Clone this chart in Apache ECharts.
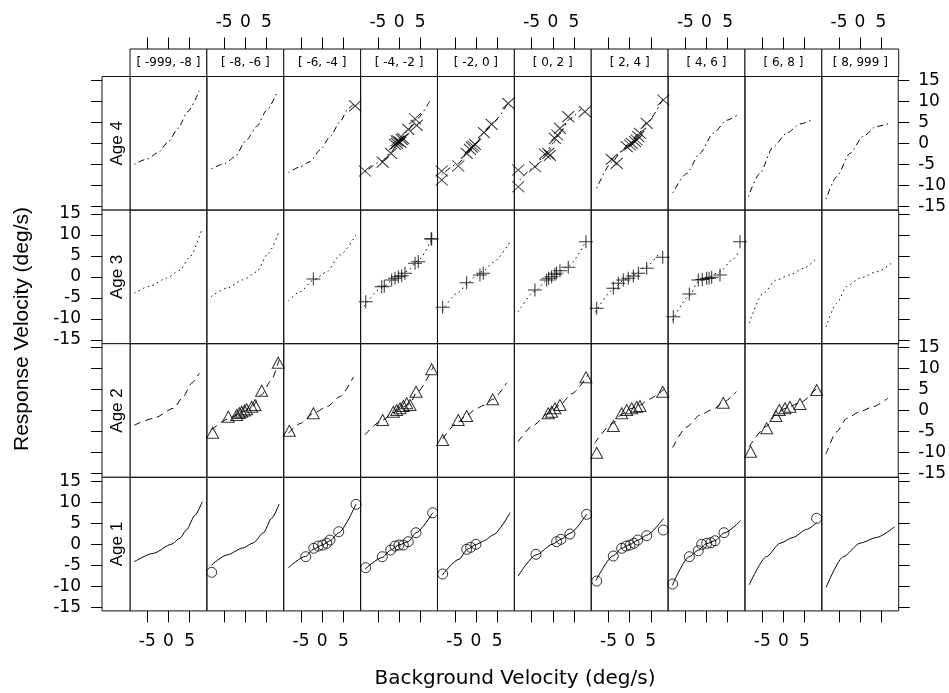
<!DOCTYPE html>
<html><head><meta charset="utf-8">
<script src="https://cdn.jsdelivr.net/npm/echarts@6/dist/echarts.min.js"></script>
<style>html,body{margin:0;padding:0;background:#fff}#c{width:949px;height:693px}</style>
</head><body><div id="c"></div>
<script>
// ---------- data ----------
const bins = ['[ -999, -8 ]','[ -8, -6 ]','[ -6, -4 ]','[ -4, -2 ]','[ -2, 0 ]','[ 0, 2 ]','[ 2, 4 ]','[ 4, 6 ]','[ 6, 8 ]','[ 8, 999 ]'];
const ages = ['Age 4','Age 3','Age 2','Age 1']; // top row to bottom row
const xTicks = [-5, 0, 5];
const yTicks = [-15, -10, -5, 0, 5, 10, 15];

// fitted curves, one per bin
const age4Curves = [
  [[-8.1,-5.0],[-5.2,-3.8],[-2.4,-2.2],[0,0.4],[2.3,3.6],[4.5,7.5],[7.3,12.5]],
  [[-8.0,-6.1],[-4.8,-4.8],[-2.5,-3.2],[0.3,0.8],[2.7,4.0],[5.1,7.9],[7.4,11.9]],
  [[-8.0,-7.0],[-5.2,-5.6],[-2.9,-4.4],[-0.5,-1.6],[1.9,1.6],[4.2,5.1],[6.2,8.3],[7.4,9.3]],
  [[-8.1,-6.9],[-4,-4.2],[-2,-2.2],[0,0.3],[2,2.9],[4,5.6],[7.3,10.1]],
  [[-8.1,-7.5],[-4.2,-4.8],[-2,-2.4],[0,0.0],[2,2.7],[4,5.0],[7.7,9.7]],
  [[-7.8,-8.7],[-4.2,-5.6],[-2,-2.8],[0,0.0],[2,3.0],[4,5.8],[6.8,8.3]],
  [[-7.8,-10.7],[-4.2,-4.5],[-2,-2.0],[0,0.2],[2,2.2],[4,4.9],[7.9,10.6]],
  [[-8.0,-11.8],[-4.7,-7.2],[-1.6,-2.4],[1.6,2.4],[4.8,5.5],[7.3,6.7]],
  [[-8.3,-12.7],[-5.6,-7.2],[-2.4,-0.8],[0.8,2.4],[3.9,4.6],[7.1,5.7]],
  [[-8.1,-13.3],[-5.6,-8.0],[-2.4,-2.4],[0.7,1.6],[3.9,4.0],[7.1,4.8]]
];
const age3Curves = [
  [[-8.1,-3.9],[-4.4,-2.2],[-0.4,-0.3],[2.7,1.6],[5.1,4.8],[7.9,11.3]],
  [[-8.1,-4.7],[-4.4,-2.7],[-0.5,-0.7],[2.7,1.2],[5.4,5.6],[8.0,10.8]],
  [[-8.0,-5.7],[-5.2,-3.5],[-2.1,-0.8],[1.1,1.2],[4.2,5.2],[8.0,10.0]],
  [[-8.3,-7.0],[-4.1,-2.6],[-1.7,-0.9],[0,0.3],[2,1.4],[4.5,3.9],[7.9,9.3]],
  [[-8.0,-8.0],[-4,-3.6],[-2,-1.6],[0,0.2],[2,1.6],[4,3.4],[8.1,8.4]],
  [[-8.2,-8.3],[-4.2,-3.4],[-1.5,-0.9],[0.5,0.5],[3.7,2.6],[7.9,8.6]],
  [[-8.1,-8.4],[-3.9,-3.0],[-1.5,-0.8],[0.9,0.4],[4.0,2.5],[7.0,5.6]],
  [[-8.0,-10.3],[-4,-4.4],[-2,-1.2],[0,-0.2],[3.2,1.2],[6,4.0],[7.9,6.2]],
  [[-8.1,-11.0],[-4.8,-3.9],[-1.6,-0.7],[1.6,0.5],[4.7,2.0],[7.9,4.4]],
  [[-8.1,-11.9],[-5.6,-6.3],[-3.2,-2.3],[-0.1,-0.3],[3.9,1.2],[7.8,3.6]]
];
const age2Curves = [
  [[-8.1,-3.5],[-3.6,-1.9],[1.2,0.5],[3.5,3.3],[5.5,6.5],[7.3,8.9]],
  [[-8.0,-4.6],[-4,-2.0],[-1,-0.5],[1.5,0.8],[3.9,3.8],[6,7.0],[8.0,12.0]],
  [[-8.0,-5.4],[-5.2,-3.1],[-2.1,-0.7],[1.1,0.9],[4.2,3.3],[7.4,8.0]],
  [[-8.1,-5.8],[-3.9,-2.3],[-1.4,-0.5],[0.6,0.7],[2.6,1.6],[4,4.0],[8.1,10.4]],
  [[-7.9,-6.8],[-4.2,-2.7],[-2,-1.0],[0.2,0.5],[2,1.3],[4,2.7],[7.3,6.6]],
  [[-8.2,-7.4],[-4.6,-3.5],[-1.1,-0.7],[1.7,1.3],[4.5,4.0],[8.4,8.6]],
  [[-8.3,-7.8],[-3.9,-3.0],[-1.9,-0.9],[0.5,0.5],[2.5,1.3],[4.5,2.7],[8.2,5.1]],
  [[-8.0,-8.8],[-4.7,-3.9],[-1.6,-1.1],[1.6,0.3],[4,2.0],[7.1,4.5]],
  [[-8.1,-8.6],[-4,-3.8],[-1.8,-1.0],[0.4,0.5],[3.9,1.8],[8.2,5.7]],
  [[-8.1,-10.4],[-5.6,-5.1],[-3.2,-1.9],[-0.1,-0.3],[3.1,0.9],[6.6,2.9]]
];
const age1Curves = [
  [[-8.1,-4.2],[-3.6,-2.2],[0.8,0.0],[2.7,1.4],[4.3,3.4],[6.3,6.9],[8.0,10.1]],
  [[-8.0,-5.0],[-4.4,-2.6],[-0.5,-0.9],[1.9,0.3],[4.3,2.7],[6.2,6.1],[8.0,9.5]],
  [[-8.0,-5.6],[-3.9,-2.9],[-2.0,-1.2],[0,-0.2],[1.9,0.8],[3.9,2.7],[8.0,9.5]],
  [[-8.1,-6.0],[-4,-3.2],[-2,-1.4],[0,-0.2],[2.2,0.6],[4,2.7],[8.0,7.5]],
  [[-8.0,-7.4],[-4,-3.6],[-2,-1.2],[0,-0.1],[2,0.8],[4.1,2.2],[8.1,7.5]],
  [[-8.2,-7.6],[-4,-2.6],[0,0],[2,1.2],[4.1,2.6],[8.0,7.1]],
  [[-8.0,-8.7],[-3.9,-2.8],[-1.9,-1.0],[0,-0.1],[1.9,0.9],[4,2.1],[8.0,6.1]],
  [[-8.1,-9.8],[-4.1,-3.0],[-2,-1.5],[0,0.1],[2,0.8],[4.1,2.6],[8.1,5.6]],
  [[-8.1,-9.7],[-4,-3.0],[-0.8,0.2],[2.3,1.6],[5.5,3.5],[7.9,5.1]],
  [[-8.1,-10.3],[-4,-3.0],[-0.1,0.2],[3.9,1.6],[8.1,4.1]]
];

// observed points, one list per bin
const age4Points = [
  [], [],
  [[7.8,8.9]],
  [[-8.06,-6.6],[-3.87,-4.46],[-1.9,-2.39],[-0.96,-0.24],[-0.17,0.54],[0.63,0.95],[1.0,1.1],[0.3,0.2],[-0.5,0.0],[-0.6,0.6],[2.19,3.33],[3.78,5.85],[4.18,4.28]],
  [[-8.1,-6.6],[-8.1,-8.74],[-4.18,-5.41],[-2.19,-2.39],[-1.41,-1.43],[-0.62,-0.65],[-0.22,-0.24],[-1.0,-0.9],[1.9,2.52],[3.73,4.52],[7.66,9.52]],
  [[-8.18,-6.36],[-8.18,-10.34],[-4.22,-5.58],[-1.86,-2.55],[-1.07,-2.39],[-0.67,-2.86],[0.51,1.19],[1.06,1.97],[1.7,3.57],[3.66,6.33],[7.61,7.52]],
  [[-4.25,-3.81],[-3.06,-4.77],[-0.7,-0.81],[0.09,-0.41],[0.49,0.0],[1.27,0.38],[1.67,0.78],[2.05,1.57],[2.45,2.38],[4.04,4.76],[7.97,10.3]],
  [], [], []
];
const age3Points = [
  [], [],
  [[-2.09,-0.5]],
  [[-7.89,-5.91],[-4.1,-2.34],[-3.5,-2.2],[-1.74,-0.74],[-0.96,-0.34],[-0.17,0.04],[0.63,0.28],[1.41,0.85],[3.78,3.23],[4.56,3.61],[7.73,9.02],[7.6,9.1]],
  [[-7.87,-7.24],[-2.19,-1.39],[0.96,0.45],[1.74,0.85]],
  [[-4.22,-3.12],[-1.45,-0.74],[-1.0,-0.3],[-0.27,0.04],[0.51,0.61],[0.9,0.9],[1.7,1.47],[3.66,2.28],[7.85,8.38]],
  [[-7.8,-7.48],[-3.87,-2.72],[-2.68,-1.53],[-1.5,-0.74],[-0.32,-0.34],[0.87,0.21],[2.05,0.85],[4.04,2.04],[7.83,4.66]],
  [[-7.87,-9.48],[-4.08,-4.08],[-1.95,-0.74],[-1.0,-0.6],[0.04,-0.34],[0.6,-0.3],[1.22,-0.1],[3.19,0.45],[7.92,8.38]],
  [], []
];
const age2Points = [
  [],
  [[-7.73,-5.29],[-4.03,-1.48],[-2.05,-1.08],[-1.4,-0.6],[-0.86,-0.29],[-0.2,0.0],[0.32,0.28],[1.51,0.9],[2.29,1.3],[3.87,4.71],[7.8,11.38]],
  [[-7.77,-4.81],[-2.09,-0.67]],
  [[-3.87,-2.27],[-1.36,-0.29],[-0.55,0.11],[0.23,0.52],[1.01,1.07],[1.81,1.71],[2.6,1.3],[4.02,4.47],[7.73,9.8]],
  [[-7.87,-7.03],[-4.18,-2.27],[-2.19,-1.31],[3.97,2.66]],
  [[-1.07,-0.67],[-0.27,-0.29],[0.51,0.52],[1.7,1.3],[7.85,7.9]],
  [[-7.8,-10.05],[-3.87,-3.7],[-1.88,-0.67],[-0.7,0.11],[0.49,0.52],[1.67,0.9],[2.45,1.07],[7.83,4.47]],
  [[3.97,1.85]],
  [[-7.75,-9.81],[-3.96,-4.24],[-1.76,-1.31],[-0.98,0.11],[0.37,0.52],[1.55,0.9],[3.92,1.54],[7.87,4.88]],
  []
];
const age1Points = [
  [],
  [[-7.96,-6.72]],
  [[-3.89,-3.0],[-2.0,-1.0],[-0.91,-0.46],[0.13,-0.22],[1.08,0.19],[1.86,0.97],[3.92,2.95],[8.02,9.47]],
  [[-7.89,-5.62],[-3.96,-3.0],[-1.97,-1.41],[-0.96,-0.46],[-0.01,-0.22],[1.01,-0.22],[2.19,0.57],[4.02,2.71],[7.97,7.47]],
  [[-7.87,-7.12],[-2.19,-1.24],[-1.24,-0.77],[0.01,-0.05]],
  [[-3.99,-2.43],[0.91,0.57],[1.93,1.14],[4.06,2.4],[8.02,7.09]],
  [[-7.8,-8.79],[-3.87,-2.84],[-1.88,-1.0],[-0.86,-0.46],[0.09,-0.22],[1.03,0.19],[1.9,0.97],[4.04,2.0],[7.97,3.35]],
  [[-8.01,-9.5],[-4.08,-3.0],[-1.95,-1.58],[-1.15,-0.05],[0.04,0.19],[1.05,0.33],[2.0,0.8],[4.13,2.71]],
  [[7.87,6.14]],
  []
];

// ---------- layout ----------
const L = 130, W = 76.87, T = 76.5, H = 133.6, STRIP_H = 27.5, LSTRIP_W = 28;
const curves = [age4Curves, age3Curves, age2Curves, age1Curves];
const points = [age4Points, age3Points, age2Points, age1Points];
const dashes = [[1.5,3.5,6,3.5], [1.5,3.5], [7,5], 'solid'];
const symbols = ['path://M0,0L10,10M0,10L10,0', 'path://M5,0L5,10M0,5L10,5', 'triangle', 'circle'];
const symSizes = [[12,11], [14,13], [12,11], [10,10]];
const tickFont = 'DejaVu Sans';

const grids = [], xAxes = [], yAxes = [], series = [], graphics = [];
for (let r = 0; r < 4; r++) {
  for (let c = 0; c < 10; c++) {
    const idx = r * 10 + c;
    grids.push({left: L + c * W, top: T + r * H, width: W, height: H,
      show: true, borderColor: '#111', borderWidth: 1, backgroundColor: 'transparent'});
    const xShow = (r === 0 || r === 3);
    xAxes.push({gridIndex: idx, type: 'value', min: -9.1, max: 9.1,
      show: xShow, position: r === 0 ? 'top' : 'bottom', offset: r === 0 ? STRIP_H : 0,
      axisLine: {show: false, onZero: false}, splitLine: {show: false},
      axisTick: {show: true, length: 11.5, customValues: xTicks, lineStyle: {color: '#000', width: 1}},
      axisLabel: {show: (r === 3 && c % 2 === 0) || (r === 0 && c % 2 === 1), customValues: xTicks,
        margin: r === 0 ? 18 : 22, fontSize: 17, fontFamily: tickFont, color: '#000'}});
    const yShow = (c === 0 || c === 9);
    yAxes.push({gridIndex: idx, type: 'value', min: -15.9, max: 15.9,
      show: yShow, position: c === 0 ? 'left' : 'right', offset: c === 0 ? LSTRIP_W : 0,
      axisLine: {show: false, onZero: false}, splitLine: {show: false},
      axisTick: {show: true, length: 11, customValues: yTicks, lineStyle: {color: '#000', width: 1}},
      axisLabel: {show: (c === 0 && (r === 1 || r === 3)) || (c === 9 && (r === 0 || r === 2)),
        customValues: yTicks, margin: c === 0 ? 21 : 20, fontSize: 17, fontFamily: tickFont, color: '#000'}});
    series.push({type: 'line', xAxisIndex: idx, yAxisIndex: idx, data: curves[r][c],
      smooth: 0.25, smoothMonotone: 'x', showSymbol: false, symbol: 'none', silent: true,
      lineStyle: {color: '#000', width: 1, type: dashes[r]}});
    if (points[r][c].length) {
      series.push({type: 'scatter', xAxisIndex: idx, yAxisIndex: idx, data: points[r][c],
        symbol: symbols[r], symbolSize: symSizes[r], silent: true,
        itemStyle: {color: 'rgba(0,0,0,0)', borderColor: '#000', borderWidth: 1}});
    }
  }
}
// top strips
for (let c = 0; c < 10; c++) {
  graphics.push({type: 'rect', shape: {x: L + c * W, y: T - STRIP_H, width: W, height: STRIP_H},
    style: {fill: '#fff', stroke: '#111', lineWidth: 1}});
  graphics.push({type: 'text', x: L + c * W + W / 2, y: T - STRIP_H / 2 + 0.5,
    style: {text: bins[c], font: '12px "DejaVu Sans"', textAlign: 'center', textVerticalAlign: 'middle', fill: '#000'}});
}
// left strips
for (let r = 0; r < 4; r++) {
  graphics.push({type: 'rect', shape: {x: L - LSTRIP_W, y: T + r * H, width: LSTRIP_W, height: H},
    style: {fill: '#fff', stroke: '#111', lineWidth: 1}});
  graphics.push({type: 'text', x: L - LSTRIP_W / 2 + 1, y: T + r * H + H / 2, rotation: Math.PI / 2,
    style: {text: ages[r], font: '17px "Liberation Sans"', textAlign: 'center', textVerticalAlign: 'middle', fill: '#000'}});
}
graphics.push({type: 'text', x: 515, y: 679,
  style: {text: 'Background Velocity (deg/s)', font: '20px "DejaVu Sans"', textAlign: 'center', textVerticalAlign: 'middle', fill: '#000'}});
graphics.push({type: 'text', x: 22.5, y: 329, rotation: Math.PI / 2,
  style: {text: 'Response Velocity (deg/s)', font: '21px "Liberation Sans"', textAlign: 'center', textVerticalAlign: 'middle', fill: '#000'}});

const chart = echarts.init(document.getElementById('c'), null, {renderer: 'canvas'});
chart.setOption({animation: false, backgroundColor: '#fff',
  grid: grids, xAxis: xAxes, yAxis: yAxes, series: series, graphic: graphics});
</script></body></html>
